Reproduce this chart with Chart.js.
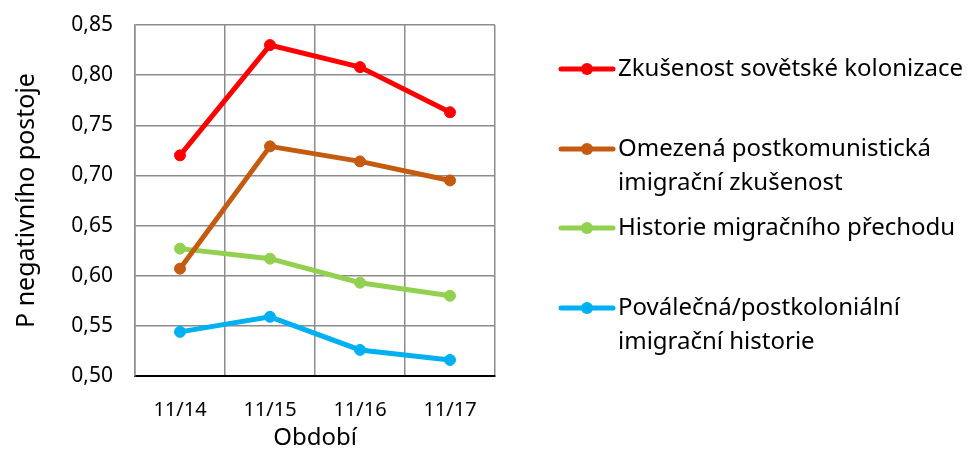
<!DOCTYPE html>
<html>
<head>
<meta charset="utf-8">
<script src="https://cdn.jsdelivr.net/npm/chart.js@4"></script>
<style>
  html, body { margin: 0; padding: 0; background: #fff; }
  #wrap { width: 967px; height: 451px; }
</style>
</head>
<body>
<div id="wrap"><canvas id="graf" width="967" height="451"></canvas></div>
<script>
const obdobi = ['11/14', '11/15', '11/16', '11/17'];
const sovetska = [0.720, 0.830, 0.808, 0.763];
const postkomunisticka = [0.607, 0.729, 0.714, 0.695];
const prechod = [0.627, 0.617, 0.593, 0.580];
const postkolonialni = [0.544, 0.559, 0.526, 0.516];
const nazvy = [
  'Zkušenost sovětské kolonizace',
  'Omezená postkomunistická\nimigrační zkušenost',
  'Historie migračního přechodu',
  'Poválečná/postkoloniální\nimigrační historie'
];
const barvy = ['#FF0000', '#C55A11', '#92D050', '#00B0F0'];
const font = '"Noto Sans", sans-serif';

function serie(i, data) {
  return {
    label: nazvy[i],
    data: data,
    borderColor: barvy[i],
    backgroundColor: barvy[i],
    borderWidth: 5,
    pointRadius: 5.5,
    pointBorderWidth: 1,
    pointHoverRadius: 6,
    tension: 0
  };
}

// legenda vpravo, ruzne rozestupy jako v originalu
const legendaY = [69, 149, 228, 308];
const legendaPlugin = {
  id: 'legendaVpravo',
  afterDraw(chart) {
    const ctx = chart.ctx;
    ctx.save();
    chart.data.datasets.forEach((ds, i) => {
      const y = legendaY[i];
      ctx.strokeStyle = ds.borderColor;
      ctx.lineWidth = 5;
      ctx.lineCap = 'round';
      ctx.beginPath();
      ctx.moveTo(561, y);
      ctx.lineTo(613, y);
      ctx.stroke();
      ctx.fillStyle = ds.borderColor;
      ctx.beginPath();
      ctx.arc(587, y, 6, 0, Math.PI * 2);
      ctx.fill();
      ctx.fillStyle = '#000';
      ctx.font = '24px ' + font;
      ctx.textBaseline = 'middle';
      ctx.textAlign = 'left';
      ds.label.split('\n').forEach((radek, j) => {
        ctx.fillText(radek, 618, y + j * 34);
      });
    });
    ctx.restore();
  }
};

new Chart(document.getElementById('graf'), {
  type: 'line',
  data: {
    labels: obdobi,
    datasets: [
      serie(0, sovetska),
      serie(1, postkomunisticka),
      serie(2, prechod),
      serie(3, postkolonialni)
    ]
  },
  options: {
    responsive: false,
    animation: false,
    layout: { padding: { top: 25, right: 472, left: 0, bottom: 0 } },
    plugins: {
      legend: { display: false },
      tooltip: { enabled: false }
    },
    scales: {
      x: {
        offset: true,
        grid: { offset: true, color: '#8c8c8c', lineWidth: 1.5, drawTicks: false },
        border: { color: '#000', width: 2 },
        ticks: { color: '#000', font: { family: font, size: 20 }, padding: 22 },
        title: { display: true, text: 'Období', color: '#000', font: { family: font, size: 24 }, padding: { top: 0, bottom: -2 } },
        afterFit(scale) { scale.height = 75; }
      },
      y: {
        min: 0.5,
        max: 0.85,
        ticks: {
          stepSize: 0.05,
          color: '#000',
          font: { family: font, size: 21 },
          padding: 22,
          callback: v => v.toFixed(2).replace('.', ',')
        },
        grid: { color: '#8c8c8c', lineWidth: 1.5, drawTicks: false },
        border: { color: '#8c8c8c', width: 1.5 },
        title: { display: true, text: 'P negativního postoje', color: '#000', font: { family: font, size: 25 }, padding: { top: 12, bottom: 4 } },
        afterFit(scale) {
          scale.width = 135;
          scale.paddingTop = 0;
          scale.paddingBottom = 0;
        }
      }
    }
  },
  plugins: [legendaPlugin]
});
</script>
</body>
</html>
